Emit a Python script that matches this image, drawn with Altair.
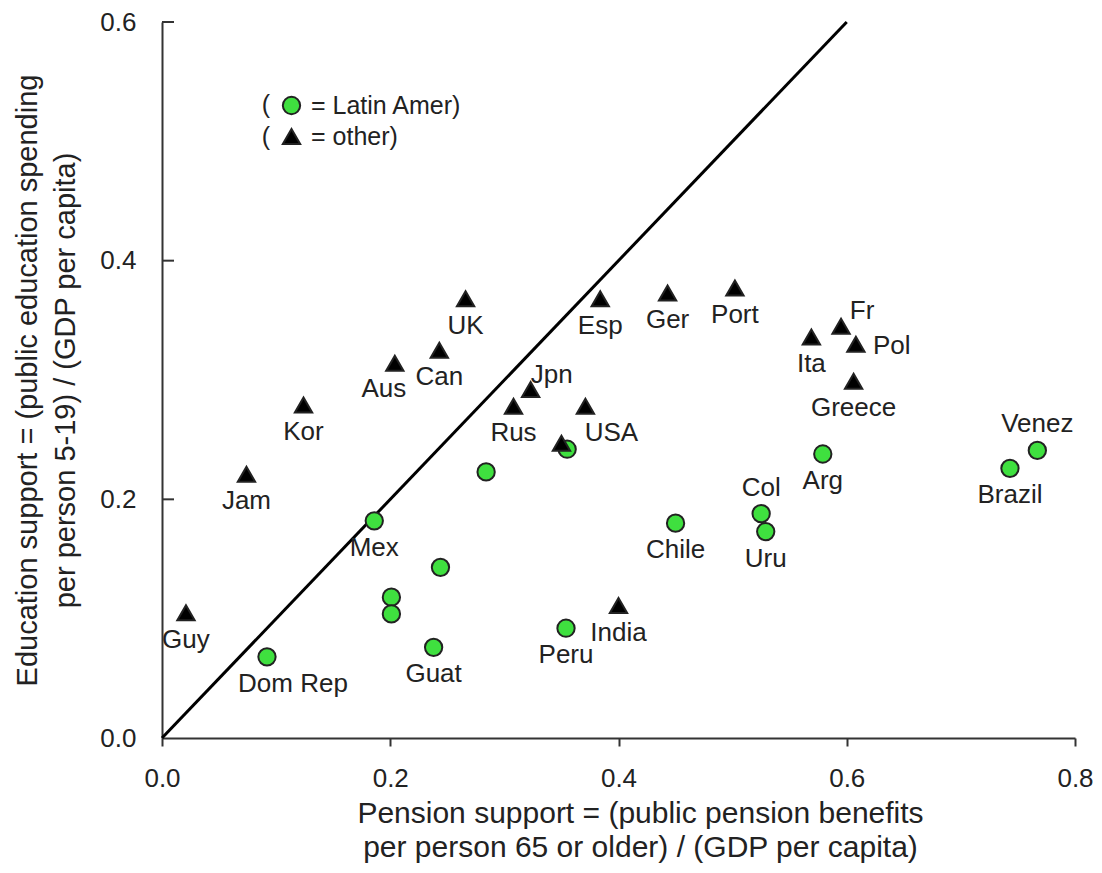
import altair as alt
import pandas as pd

FONT = "Liberation Sans"

# ---- data ----
latin_names = ["Dom Rep", "Mex", "", "", "Guat", "", "", "Peru", "", "Chile",
               "Col", "Uru", "Arg", "Brazil", "Venez"]
latin_pension = [0.092, 0.186, 0.201, 0.201, 0.238, 0.244, 0.284, 0.354, 0.355, 0.450,
                 0.525, 0.529, 0.579, 0.743, 0.767]
latin_educ = [0.068, 0.182, 0.118, 0.104, 0.076, 0.143, 0.223, 0.092, 0.242, 0.180,
              0.188, 0.173, 0.238, 0.226, 0.241]
latin_labelpos = ["SE", "S", "", "", "S", "", "", "S", "", "S",
                  "N", "S", "S", "S", "N"]

other_names = ["Guy", "Jam", "Kor", "Aus", "Can", "UK", "Rus", "Jpn", "", "USA",
               "Esp", "India", "Ger", "Port", "Ita", "Fr", "Greece", "Pol"]
other_pension = [0.021, 0.074, 0.124, 0.204, 0.243, 0.266, 0.308, 0.323, 0.350, 0.371,
                 0.384, 0.400, 0.443, 0.502, 0.569, 0.595, 0.606, 0.608]
other_educ = [0.105, 0.221, 0.279, 0.314, 0.325, 0.368, 0.278, 0.292, 0.247, 0.278,
              0.368, 0.111, 0.373, 0.377, 0.336, 0.345, 0.299, 0.330]
other_labelpos = ["S", "S", "S", "SW", "S", "S", "S", "NE", "", "SE",
                  "S", "S", "S", "S", "S", "NE", "S", "E"]

groups = ["Latin Amer", "other"]
x_ticks = [0.0, 0.2, 0.4, 0.6, 0.8]
y_ticks = [0.0, 0.2, 0.4, 0.6]
inner_y_ticks = [0.2, 0.4, 0.6]
diag = [0.0, 0.6]

x_title = ["Pension support = (public pension benefits",
           "per person 65 or older) / (GDP per capita)"]
y_title = ["Education support = (public education spending",
           "per person 5-19) / (GDP per capita)"]

df = pd.DataFrame({
    "name": latin_names + other_names,
    "pension": latin_pension + other_pension,
    "educ": latin_educ + other_educ,
    "group": [groups[0]] * len(latin_names) + [groups[1]] * len(other_names),
    "pos": latin_labelpos + other_labelpos,
})
diag_df = pd.DataFrame({"pension": diag, "educ": diag})
ytick_df = pd.DataFrame({"educ": inner_y_ticks})

xscale = alt.Scale(domain=[0, 0.8], nice=False)
yscale = alt.Scale(domain=[0, 0.6], nice=False)

xaxis = alt.Axis(values=x_ticks, format=".1f", tickSize=8, labelPadding=19,
                 labelFontSize=26, labelFlush=False, grid=False,
                 title=x_title, titleFontSize=30, titleLineHeight=34,
                 titleBaseline="alphabetic", titleX=478, titleY=84,
                 titleAlign="center")
yaxis = alt.Axis(values=y_ticks, format=".1f", ticks=False, tickSize=0,
                 labelPadding=26, labelFontSize=26, grid=False,
                 title=y_title, titleFontSize=29, titleLineHeight=38,
                 titleBaseline="alphabetic", titleX=-126, titleY=358,
                 titleAngle=270, titleAlign="center")

X = alt.X("pension:Q", scale=xscale, axis=xaxis)
Y = alt.Y("educ:Q", scale=yscale, axis=yaxis)

legend = alt.Legend(title=None, orient="none", legendX=117, legendY=71,
                    labelExpr="'= ' + datum.label + ')'",
                    labelFontSize=25, labelFont=FONT, labelColor="#222",
                    symbolSize=300, symbolStrokeColor="#222", symbolStrokeWidth=2,
                    rowPadding=5, labelOffset=7, padding=0)

line = alt.Chart(diag_df).mark_line(color="black", strokeWidth=3).encode(x=X, y=Y)

yticks = alt.Chart(ytick_df).mark_rule(color="#333", strokeWidth=2).encode(
    y=alt.Y("educ:Q", scale=yscale, axis=yaxis),
    x=alt.value(0), x2=alt.value(12))

points = alt.Chart(df).mark_point(filled=True, size=300, stroke="#222",
                                  strokeWidth=2, opacity=1).encode(
    x=X, y=Y,
    color=alt.Color("group:N", scale=alt.Scale(domain=groups, range=["#3fe03f", "black"]),
                    legend=legend),
    shape=alt.Shape("group:N", scale=alt.Scale(domain=groups, range=["circle", "triangle-up"]),
                    legend=legend),
)

placements = {
    "S": dict(dx=0, dy=27, align="center"),
    "N": dict(dx=0, dy=-26, align="center"),
    "E": dict(dx=17, dy=2, align="left"),
    "SW": dict(dx=-11, dy=26, align="center"),
    "SE": dict(dx=26, dy=27, align="center"),
    "NE": dict(dx=21, dy=-15, align="center"),
}

label_layers = []
for key, p in placements.items():
    label_layers.append(
        alt.Chart(df).mark_text(font=FONT, fontSize=26, color="#222", baseline="middle",
                                dx=p["dx"], dy=p["dy"], align=p["align"]).encode(
            x=X, y=Y, text="name:N").transform_filter(alt.datum.pos == key)
    )

paren1 = alt.Chart(alt.Data(values=[{"t": "("}])).mark_text(
    font=FONT, fontSize=25, color="#222", baseline="middle", align="center").encode(
    x=alt.value(104), y=alt.value(83), text="t:N")
paren2 = alt.Chart(alt.Data(values=[{"t": "("}])).mark_text(
    font=FONT, fontSize=25, color="#222", baseline="middle", align="center").encode(
    x=alt.value(104), y=alt.value(115), text="t:N")

chart = alt.layer(line, yticks, points, *label_layers, paren1, paren2).properties(
    width=913, height=716,
    autosize=alt.AutoSizeParams(type="none"),
    padding={"left": 154, "top": 14, "right": 18, "bottom": 125},
).configure_axis(
    domainColor="#333", domainWidth=2, tickColor="#333", tickWidth=2,
    labelFont=FONT, labelColor="#222", titleFont=FONT, titleColor="#222",
    titleFontWeight="normal",
).configure_view(strokeWidth=0)

chart.save("out.html", embed_options={"renderer": "svg", "actions": False})
